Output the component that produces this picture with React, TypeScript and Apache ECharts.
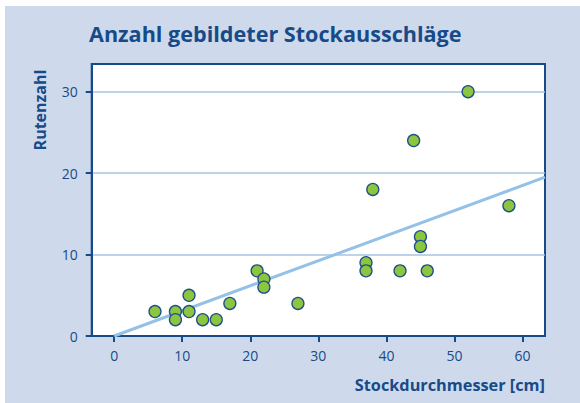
import React, { useEffect, useRef } from "react";
import * as echarts from "echarts";

const diameters = [6, 9, 9, 11, 11, 13, 15, 17, 21, 22, 22, 27, 37, 37, 38, 42, 44, 45, 45, 46, 52, 58];
const shoots = [3, 3, 2, 5, 3, 2, 2, 4, 8, 7, 6, 4, 9, 8, 18, 8, 24, 12.2, 11, 8, 30, 16];
const regressionX = [0, 63.3];
const regressionY = [0, 19.5];
const xTicks = [0, 10, 20, 30, 40, 50, 60];
const yTicks = [0, 10, 20, 30];

const title = "Anzahl gebildeter Stockausschläge";
const xName = "Stockdurchmesser [cm]";
const yName = "Rutenzahl";

const DARK = "#174a88";
const FONT = "'Open Sans', 'Noto Sans', sans-serif";

export default function App() {
  const ref = useRef<HTMLDivElement>(null);
  useEffect(() => {
    if (!ref.current) return;
    const chart = echarts.init(ref.current, null, { renderer: "svg" });
    const points = diameters.map((d, i) => [d, shoots[i]]);
    const reg = regressionX.map((x, i) => [x, regressionY[i]]);
    chart.setOption({
      animation: false,
      backgroundColor: "#ffffff",
      textStyle: { fontFamily: FONT },
      graphic: [
        {
          type: "rect",
          z: -10,
          silent: true,
          shape: { x: 5, y: 6, width: 575, height: 397 },
          style: { fill: "#cedaeb" },
        },
        {
          type: "text",
          x: 89,
          y: 33,
          style: {
            text: title,
            fill: DARK,
            font: `bold 21.6px ${FONT}`,
            textVerticalAlign: "middle",
          },
        },
        {
          type: "text",
          x: 545,
          y: 385,
          style: {
            text: xName,
            fill: DARK,
            font: `bold 16.3px ${FONT}`,
            textAlign: "right",
            textVerticalAlign: "middle",
          },
        },
        {
          type: "text",
          x: 40,
          y: 110,
          rotation: Math.PI / 2,
          style: {
            text: yName,
            fill: DARK,
            font: `bold 16px ${FONT}`,
            textAlign: "center",
            textVerticalAlign: "middle",
          },
        },
      ],
      grid: {
        left: 91.7,
        right: 35,
        top: 64,
        bottom: 67,
        show: true,
        backgroundColor: "#ffffff",
        borderColor: DARK,
        borderWidth: 2,
      },
      xAxis: {
        type: "value",
        min: -3.3,
        max: 63.3,
        axisLine: { show: true, onZero: false, lineStyle: { color: DARK, width: 2 } },
        axisTick: {
          show: true,
          length: 6,
          customValues: xTicks,
          lineStyle: { color: DARK, width: 2 },
        },
        axisLabel: {
          customValues: xTicks,
          color: DARK,
          fontSize: 14,
          fontFamily: FONT,
          margin: 12,
        },
        splitLine: { show: false },
      },
      yAxis: {
        type: "value",
        min: 0,
        max: 33.4,
        interval: 10,
        axisLine: { show: true, onZero: false, lineStyle: { color: DARK, width: 2 } },
        axisTick: {
          show: true,
          length: 6,
          customValues: yTicks,
          lineStyle: { color: DARK, width: 2 },
        },
        axisLabel: {
          customValues: yTicks,
          color: DARK,
          fontSize: 14,
          fontFamily: FONT,
          margin: 14,
        },
        splitLine: { show: true, lineStyle: { color: "#a9c4e2", width: 1.5 } },
      },
      series: [
        {
          type: "line",
          data: reg,
          showSymbol: false,
          symbol: "none",
          lineStyle: { color: "#93c1e8", width: 3 },
          z: 2,
        },
        {
          type: "scatter",
          data: points,
          symbolSize: 12,
          itemStyle: { color: "#8cc63f", borderColor: "#1f4f8c", borderWidth: 1.3, opacity: 1 },
          z: 3,
        },
      ],
    });
    return () => chart.dispose();
  }, []);
  return (
    <div
      ref={ref}
      style={{ position: "absolute", left: 0, top: 0, width: 580, height: 403 }}
    />
  );
}
